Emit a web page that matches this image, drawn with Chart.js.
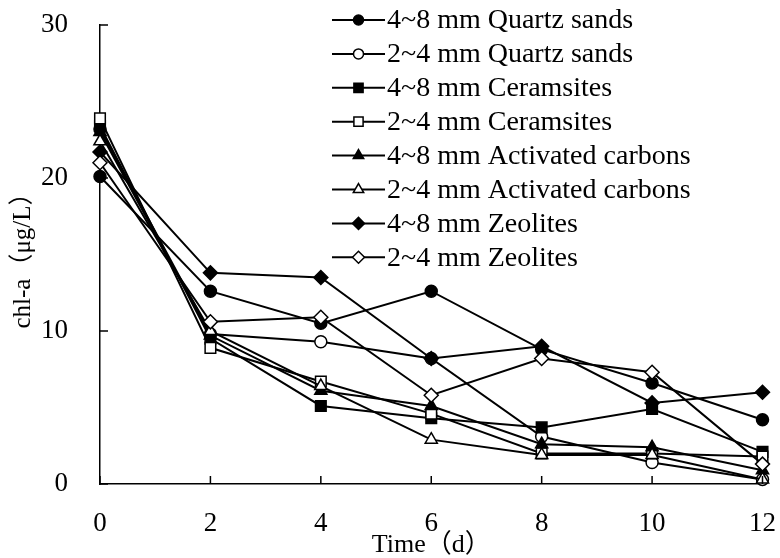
<!DOCTYPE html>
<html>
<head>
<meta charset="utf-8">
<script src="https://cdn.jsdelivr.net/npm/chart.js"></script>
<style>
  body { margin: 0; background: #fff; }
  canvas { display: block; }
</style>
</head>
<body>
<canvas id="chlChart" width="780" height="558"></canvas>
<script>
// Sampling days
const days = [0, 2, 4, 6, 8, 10, 12];

// chl-a (ug/L) for each filter medium
const quartz48 = [20.1, 12.6, 10.5, 12.6, 8.8, 6.6, 4.2];
const quartz24 = [23.2, 9.8, 9.3, 8.2, 3.1, 1.4, 0.3];
const ceram48 = [23.4, 9.5, 5.1, 4.3, 3.7, 4.9, 2.1];
const ceram24 = [23.9, 8.9, 6.7, 4.6, 2.0, 2.0, 1.8];
const carbon48 = [23.0, 9.7, 6.1, 5.1, 2.6, 2.4, 0.9];
const carbon24 = [22.4, 10.0, 6.4, 2.9, 1.9, 1.9, 0.3];
const zeo48 = [21.7, 13.8, 13.5, 8.2, 9.0, 5.3, 6.0];
const zeo24 = [21.0, 10.6, 10.9, 5.8, 8.2, 7.3, 1.3];

const seriesNames = [
  '4~8 mm Quartz sands', '2~4 mm Quartz sands',
  '4~8 mm Ceramsites', '2~4 mm Ceramsites',
  '4~8 mm Activated carbons', '2~4 mm Activated carbons',
  '4~8 mm Zeolites', '2~4 mm Zeolites'
];
const seriesValues = [quartz48, quartz24, ceram48, ceram24, carbon48, carbon24, zeo48, zeo24];

const xTicks = [0, 2, 4, 6, 8, 10, 12];
const yTicks = [0, 10, 20, 30];

// marker look: even index filled, odd index open
const markerShapes = ['circle', 'circle', 'rect', 'rect', 'triangle', 'triangle', 'rectRot', 'rectRot'];
const markerSizes = { circle: 6, rect: 7.5, triangle: 7, rectRot: 7 };
const serif = "'Liberation Serif', 'Times New Roman', 'Noto Sans CJK SC', serif";

const datasets = seriesValues.map((vals, i) => ({
  label: seriesNames[i],
  data: days.map((d, k) => ({ x: d, y: vals[k] })),
  borderColor: '#000',
  borderWidth: 2,
  backgroundColor: i % 2 === 0 ? '#000' : '#fff',
  pointStyle: markerShapes[i],
  pointRadius: markerSizes[markerShapes[i]],
  pointBorderWidth: 1.5,
  pointBorderColor: '#000',
  pointBackgroundColor: i % 2 === 0 ? '#000' : '#fff',
  tension: 0,
  clip: false,
  order: seriesValues.length - i   // later series on top, like the original
}));

// inward ticks + line/marker legend
const ticksAndLegend = {
  id: 'ticksAndLegend',
  afterDraw(chart) {
    const ctx = chart.ctx;
    const xs = chart.scales.x;
    const ys = chart.scales.y;
    ctx.save();
    ctx.strokeStyle = '#000';
    ctx.lineWidth = 1.5;
    ctx.beginPath();
    yTicks.forEach(v => {
      const py = ys.getPixelForValue(v);
      ctx.moveTo(xs.left, py);
      ctx.lineTo(xs.left + 8, py);
    });
    xTicks.forEach(v => {
      const px = xs.getPixelForValue(v);
      ctx.moveTo(px, ys.bottom);
      ctx.lineTo(px, ys.bottom - 8);
    });
    ctx.stroke();

    // legend
    const lx0 = 332, lx1 = 385, top = 20, gap = 33.9;
    ctx.font = '28px ' + serif;
    ctx.textBaseline = 'middle';
    ctx.textAlign = 'left';
    seriesNames.forEach((name, i) => {
      const ly = top + i * gap;
      ctx.strokeStyle = '#000';
      ctx.lineWidth = 2;
      ctx.beginPath();
      ctx.moveTo(lx0, ly);
      ctx.lineTo(lx1, ly);
      ctx.stroke();
      ctx.fillStyle = i % 2 === 0 ? '#000' : '#fff';
      ctx.lineWidth = 1.5;
      Chart.helpers.drawPoint(ctx, {
        pointStyle: markerShapes[i],
        radius: markerSizes[markerShapes[i]] - 1,
        rotation: 0,
        borderWidth: 1.5
      }, (lx0 + lx1) / 2, ly);
      ctx.fillStyle = '#000';
      ctx.fillText(name, lx1 + 2, ly + 1);
    });
    ctx.restore();
  }
};

new Chart(document.getElementById('chlChart'), {
  type: 'line',
  data: { datasets: datasets },
  options: {
    responsive: false,
    animation: false,
    devicePixelRatio: 1,
    layout: { padding: { top: 25, right: 17.5, left: 0, bottom: 0 } },
    plugins: {
      legend: { display: false },
      tooltip: { enabled: false }
    },
    scales: {
      x: {
        type: 'linear',
        min: 0,
        max: 12,
        afterBuildTicks: s => { s.ticks = xTicks.map(v => ({ value: v })); },
        afterFit: s => { s.height = 74; s.paddingLeft = 0; s.paddingRight = 0; },
        grid: { display: false },
        border: { display: true, color: '#000', width: 1.5 },
        ticks: { color: '#000', padding: 16, maxRotation: 0, font: { family: serif, size: 27 } },
        title: {
          display: true,
          text: 'Time（d）',
          color: '#000',
          padding: { top: 0, bottom: 0 },
          font: { family: serif, size: 26, lineHeight: 1 }
        }
      },
      y: {
        min: 0,
        max: 30,
        afterBuildTicks: s => { s.ticks = yTicks.map(v => ({ value: v })); },
        afterFit: s => { s.width = 100; s.paddingTop = 0; s.paddingBottom = 0; },
        grid: { display: false },
        border: { display: true, color: '#000', width: 1.5 },
        ticks: { color: '#000', padding: 24, font: { family: serif, size: 27 } },
        title: {
          display: true,
          text: 'chl-a（μg/L）',
          color: '#000',
          padding: { top: 8, bottom: 0 },
          font: { family: serif, size: 25, lineHeight: 1.2 }
        }
      }
    }
  },
  plugins: [ticksAndLegend]
});
</script>
</body>
</html>
